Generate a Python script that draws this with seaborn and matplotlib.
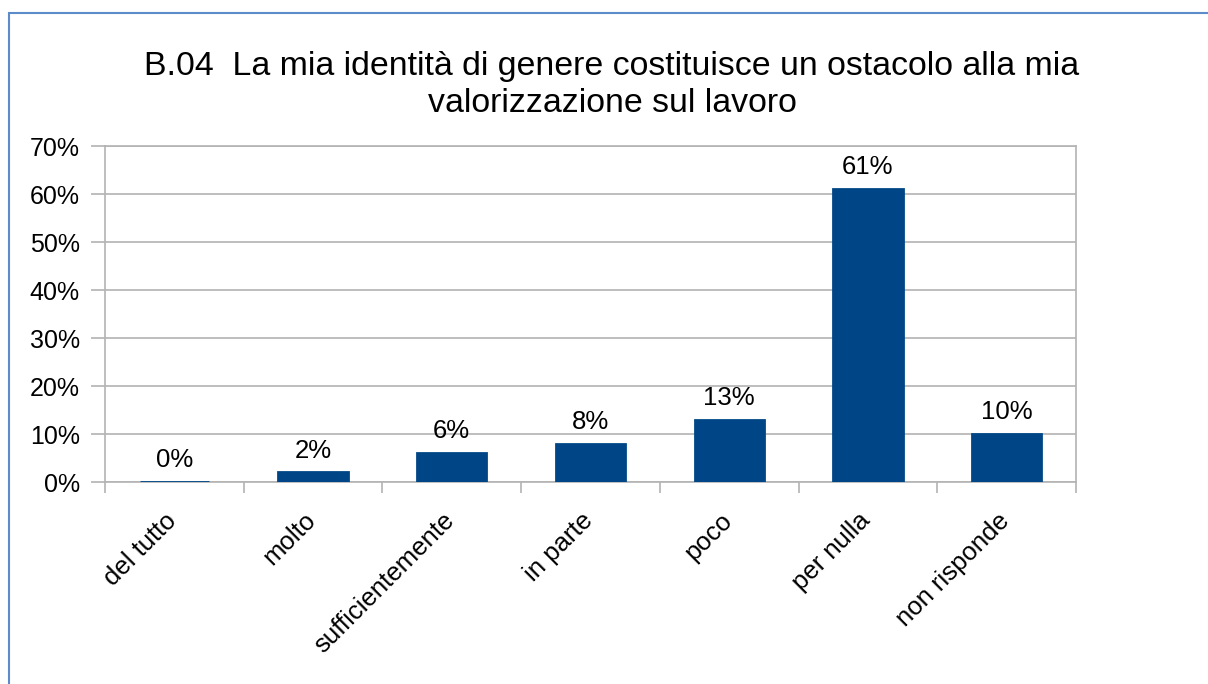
import numpy as np
import matplotlib
matplotlib.use('Agg')
import matplotlib.pyplot as plt
import matplotlib.transforms as mtransforms
import seaborn as sns
from matplotlib.patches import Rectangle
from matplotlib.ticker import PercentFormatter

# Data
categories = ["del tutto", "molto", "sufficientemente", "in parte", "poco", "per nulla", "non risponde"]
values = [0, 2, 6, 8, 13, 61, 10]
title = "B.04  La mia identità di genere costituisce un ostacolo alla mia\nvalorizzazione sul lavoro"

bar_color = "#004586"
grid_color = "#b3b3b3"

sns.set_theme(style="white")
plt.rcParams['font.family'] = ['Liberation Sans', 'DejaVu Sans']

fig = plt.figure(figsize=(12.08, 6.84), dpi=100)
ax = fig.add_axes([105 / 1208, 1 - 482 / 684, (1076 - 105) / 1208, (482 - 146) / 684])

sns.barplot(x=categories, y=values, color=bar_color, width=0.5, saturation=1,
            edgecolor=bar_color, linewidth=2, ax=ax, zorder=3)

ax.set_ylim(0, 70)
ax.set_xlim(-0.5, len(categories) - 0.5)
ax.set_yticks(np.arange(0, 71, 10))
ax.yaxis.set_major_formatter(PercentFormatter(decimals=0))
ax.grid(axis='y', color=grid_color, linewidth=1.2, zorder=0)

# x ticks at category boundaries, labels at centres
ax.set_xticks(np.arange(-0.5, len(categories), 1))
ax.set_xticklabels([])
ax.set_xticks(np.arange(len(categories)), minor=True)
ax.set_xticklabels(categories, minor=True, rotation=45, ha='right', rotation_mode='anchor')
ax.tick_params(axis='x', which='major', length=8, width=1.2, color=grid_color, direction='out', bottom=True)
ax.tick_params(axis='x', which='minor', length=0, pad=19, labelsize=18.5, labelcolor='black')
ax.tick_params(axis='y', length=10, width=1.2, color=grid_color, direction='out', left=True,
               labelsize=18, labelcolor='black', pad=8)
ax.set_xlabel("")
ax.set_ylabel("")

# nudge rotated labels so their ends sit under the bar centres
shift = mtransforms.ScaledTranslation(-7 / 72, 0, fig.dpi_scale_trans)
for lbl in ax.get_xticklabels(minor=True):
    lbl.set_transform(lbl.get_transform() + shift)

for side in ['left', 'right', 'bottom', 'top']:
    ax.spines[side].set_visible(True)
    ax.spines[side].set_color(grid_color)
    ax.spines[side].set_linewidth(1.2)

# value labels
for i, v in enumerate(values):
    ax.annotate(f"{v}%", (i, v), xytext=(0, 7), textcoords='offset points',
                ha='center', va='bottom', fontsize=18.5, color='black')

fig.text(612 / 1208, 1 - 85 / 684, title, ha='center', va='center', fontsize=24.4,
         color='black', linespacing=1.25)

# outer frame of the chart object
fig.patches.append(Rectangle((9 / 1208, -0.1), 1.2, 1 - 13 / 684 + 0.1, transform=fig.transFigure,
                             fill=False, edgecolor='#5b8bc9', linewidth=1.5))

fig.savefig("out.png", dpi=100)
